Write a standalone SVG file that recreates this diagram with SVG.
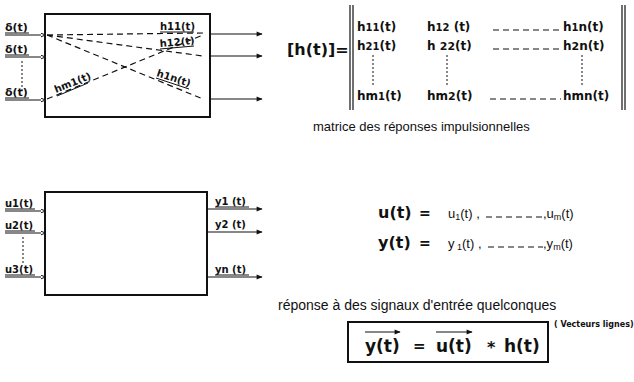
<svg xmlns="http://www.w3.org/2000/svg" width="634" height="382" viewBox="0 0 634 382">
<style>
.t{font-family:"Liberation Sans",Arial,sans-serif;fill:#111}
.d{font-family:"DejaVu Sans","Liberation Sans",sans-serif;fill:#111;font-weight:bold}
.box{fill:none;stroke:#111;stroke-width:2}
.ln{stroke:#111;stroke-width:1.2;fill:none}
.ds{stroke:#111;stroke-width:1.2;fill:none;stroke-dasharray:6 4}
.dt{stroke:#111;stroke-width:1;fill:none;stroke-dasharray:2 2}
.ul{stroke:#111;stroke-width:1}
</style>
<defs>
<marker id="ar" viewBox="0 0 10 10" refX="9" refY="5" markerWidth="8" markerHeight="6" orient="auto" markerUnits="userSpaceOnUse">
<path d="M0,1 L10,5 L0,9 z" fill="#111"/>
</marker>
<marker id="ai" viewBox="0 0 10 10" refX="9" refY="5" markerWidth="5" markerHeight="5" orient="auto" markerUnits="userSpaceOnUse">
<path d="M0,1 L10,5 L0,9 z" fill="#fff" stroke="#111" stroke-width="2"/>
</marker>
</defs>

<g id="impulse-system">
<rect class="box" x="45" y="14" width="165" height="103"/>
</g>

<g id="impulse-inputs">
<text class="d" x="5" y="31" font-size="11">δ(t)</text>
<line class="ul" x1="5" y1="33" x2="29" y2="33"/>
<text class="d" x="5" y="53" font-size="11">δ(t)</text>
<line class="ul" x1="5" y1="55" x2="29" y2="55"/>
<text class="d" x="5" y="96" font-size="11">δ(t)</text>
<line class="ul" x1="5" y1="98" x2="29" y2="98"/>
<line class="dt" x1="22" y1="61" x2="22" y2="91"/>
</g>

<g id="impulse-labels">
<text class="d" x="160" y="30" font-size="10">h11(t)</text>
<line class="ul" x1="160" y1="32" x2="194" y2="32"/>
<text class="d" x="160" y="47" font-size="10" transform="rotate(-5 160 47)">h12(t)</text>
<line class="ul" x1="160" y1="49" x2="194" y2="46"/>
<text class="d" x="156" y="76" font-size="10" transform="rotate(18 156 76)">h1n(t)</text>
<line class="ul" x1="156" y1="78" x2="189" y2="89"/>
<text class="d" x="56" y="93" font-size="10" transform="rotate(-22 56 93)">hm1(t)</text>
<line class="ul" x1="57" y1="96" x2="88" y2="83"/>
</g>

<g id="connectors">
<line class="ln" x1="5" y1="35" x2="45" y2="35" marker-end="url(#ai)"/>
<line class="ln" x1="5" y1="57" x2="45" y2="57" marker-end="url(#ai)"/>
<line class="ln" x1="5" y1="100" x2="45" y2="100" marker-end="url(#ai)"/>
<line class="ds" x1="47" y1="35" x2="203" y2="33"/>
<line class="ds" x1="47" y1="35" x2="203" y2="56"/>
<line class="ds" x1="47" y1="35" x2="203" y2="99"/>
<line class="ds" x1="47" y1="99" x2="203" y2="35"/>
<line class="ln" x1="210" y1="34" x2="262" y2="34" marker-end="url(#ar)"/>
<line class="ln" x1="210" y1="56" x2="262" y2="56" marker-end="url(#ar)"/>
<line class="ln" x1="210" y1="99" x2="262" y2="99" marker-end="url(#ar)"/>

<line class="ln" x1="5" y1="211" x2="45" y2="211" marker-end="url(#ai)"/>
<line class="ln" x1="5" y1="233" x2="45" y2="233" marker-end="url(#ai)"/>
<line class="ln" x1="5" y1="277" x2="45" y2="277" marker-end="url(#ai)"/>
<line class="ln" x1="207" y1="209" x2="262" y2="209" marker-end="url(#ar)"/>
<line class="ln" x1="207" y1="232" x2="262" y2="232" marker-end="url(#ar)"/>
<line class="ln" x1="207" y1="277" x2="262" y2="277" marker-end="url(#ar)"/>
</g>

<g id="matrix">
<text class="d" x="287" y="55" font-size="16">[h(t)]=</text>
<line class="ln" x1="350" y1="5" x2="350" y2="110" stroke-width="1.5"/>
<line class="ln" x1="353" y1="5" x2="353" y2="110" stroke-width="1.5"/>
<line class="ln" x1="622" y1="5" x2="622" y2="110" stroke-width="1.5"/>
<line class="ln" x1="625" y1="5" x2="625" y2="110" stroke-width="1.5"/>
<g class="d" font-size="12">
<text x="357" y="31">h<tspan font-size="10">11</tspan>(t)</text>
<text x="427" y="31">h<tspan font-size="10">12</tspan> (t)</text>
<text x="563" y="31">h<tspan font-size="10">1</tspan>n(t)</text>
<text x="357" y="50">h<tspan font-size="10">21</tspan>(t)</text>
<text x="427" y="50">h <tspan font-size="11">22</tspan>(t)</text>
<text x="563" y="50">h<tspan font-size="11">2</tspan>n(t)</text>
<text x="357" y="100">hm<tspan font-size="10">1</tspan>(t)</text>
<text x="427" y="100">hm<tspan font-size="11">2</tspan>(t)</text>
<text x="563" y="100">hmn(t)</text>
</g>
<line class="ds" x1="493" y1="30" x2="561" y2="30" stroke-dasharray="4 3" stroke-width="1"/>
<line class="ds" x1="493" y1="49" x2="561" y2="49" stroke-dasharray="4 3" stroke-width="1"/>
<line class="ds" x1="490" y1="99" x2="561" y2="99" stroke-dasharray="4 3" stroke-width="1"/>
<line class="dt" x1="373" y1="55" x2="373" y2="86"/>
<line class="dt" x1="447" y1="55" x2="447" y2="86"/>
<line class="dt" x1="582" y1="55" x2="582" y2="86"/>
<text class="t" x="313" y="131" font-size="13">matrice des réponses impulsionnelles</text>
</g>

<g id="signal-system">
<rect class="box" x="45" y="192" width="162" height="103"/>
</g>

<g id="signal-inputs">
<text class="d" x="5" y="207" font-size="10">u1(t)</text>
<line class="ul" x1="5" y1="209" x2="35" y2="209"/>
<text class="d" x="5" y="229" font-size="10">u2(t)</text>
<line class="ul" x1="5" y1="231" x2="35" y2="231"/>
<text class="d" x="5" y="273" font-size="10">u3(t)</text>
<line class="ul" x1="5" y1="275" x2="35" y2="275"/>
<line class="dt" x1="23" y1="237" x2="23" y2="265" stroke-dasharray="3 2"/>
</g>

<g id="signal-outputs">
<text class="d" x="215" y="205" font-size="10">y1 (t)</text>
<line class="ul" x1="215" y1="207" x2="249" y2="207"/>
<text class="d" x="215" y="228" font-size="10">y2 (t)</text>
<text class="d" x="215" y="273" font-size="10">yn (t)</text>
<line class="ul" x1="215" y1="275" x2="249" y2="275"/>
</g>

<g id="vectors">
<text class="d" x="378" y="218" font-size="16">u(t)</text>
<text class="d" x="419" y="218" font-size="14">=</text>
<text class="t" x="448" y="218" font-size="13">u<tspan font-size="9" dy="2">1</tspan><tspan dy="-2">(t) ,</tspan></text>
<line class="ds" x1="486" y1="217" x2="543" y2="217" stroke-dasharray="4 3" stroke-width="1"/>
<text class="t" x="543" y="218" font-size="13">,u<tspan font-size="9" dy="2">m</tspan><tspan dy="-2">(t)</tspan></text>
<text class="d" x="378" y="248" font-size="16">y(t)</text>
<text class="d" x="419" y="248" font-size="14">=</text>
<text class="t" x="448" y="248" font-size="13">y<tspan font-size="9" dy="2"> 1</tspan><tspan dy="-2">(t) ,</tspan></text>
<line class="ds" x1="488" y1="247" x2="543" y2="247" stroke-dasharray="4 3" stroke-width="1"/>
<text class="t" x="543" y="248" font-size="13">,y<tspan font-size="9" dy="2">m</tspan><tspan dy="-2">(t)</tspan></text>
<text class="t" x="278" y="310" font-size="14">réponse à des signaux d'entrée quelconques</text>
<text class="d" x="554" y="327" font-size="8">( Vecteurs lignes)</text>
</g>

<g id="formula">
<rect class="box" x="348" y="322" width="200" height="40"/>
<text class="d" x="365" y="352" font-size="17">y(t)</text>
<text class="d" x="413" y="351" font-size="15">=</text>
<text class="d" x="436" y="352" font-size="17">u(t)</text>
<text class="d" x="487" y="353" font-size="16">*</text>
<text class="d" x="504" y="352" font-size="17">h(t)</text>
<line class="ln" x1="365" y1="332" x2="400" y2="332" marker-end="url(#ar)"/>
<line class="ln" x1="436" y1="332" x2="472" y2="332" marker-end="url(#ar)"/>
</g>
</svg>
